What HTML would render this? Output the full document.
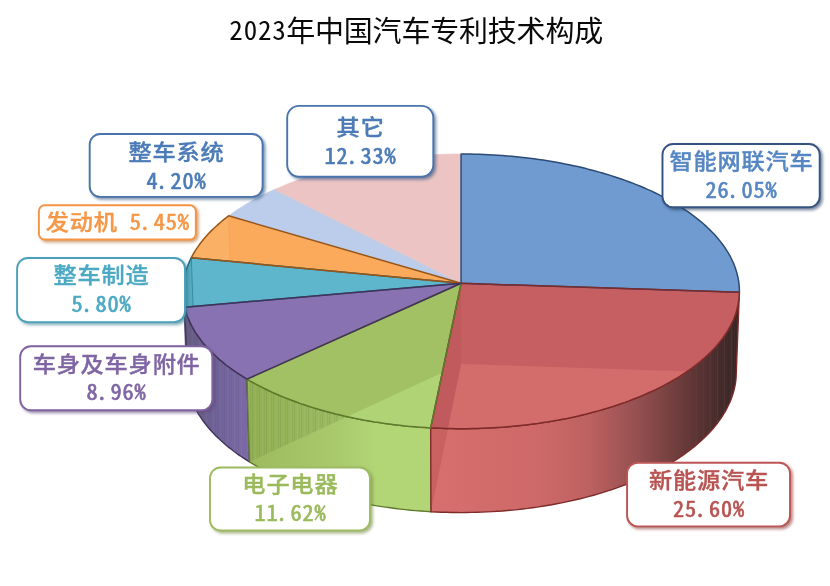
<!DOCTYPE html>
<html lang="zh-CN"><head><meta charset="utf-8"><title>2023年中国汽车专利技术构成</title>
<style>html,body{margin:0;padding:0;background:#fff}body{width:830px;height:586px;overflow:hidden}svg{display:block}</style>
</head><body>
<svg width="830" height="586" viewBox="0 0 830 586">
<defs>
<linearGradient id="gred" gradientUnits="userSpaceOnUse" x1="430" y1="0" x2="740" y2="0">
<stop offset="0" stop-color="#D76F6E"/><stop offset="0.355" stop-color="#CD6968"/><stop offset="0.51" stop-color="#BE6161"/><stop offset="0.665" stop-color="#965050"/><stop offset="0.82" stop-color="#693A3A"/><stop offset="0.935" stop-color="#472C2C"/><stop offset="1" stop-color="#3B2727"/>
</linearGradient>
<linearGradient id="ggreen" gradientUnits="userSpaceOnUse" x1="249" y1="0" x2="431" y2="0">
<stop offset="0" stop-color="#9DBB5E"/><stop offset="0.45" stop-color="#A8C86B"/><stop offset="0.7" stop-color="#B2D576"/><stop offset="1" stop-color="#B2D576"/>
</linearGradient>
<linearGradient id="gpurple" gradientUnits="userSpaceOnUse" x1="184" y1="0" x2="249" y2="0">
<stop offset="0" stop-color="#665C80"/><stop offset="0.5" stop-color="#706398"/><stop offset="1" stop-color="#7D6BA8"/>
</linearGradient>
<pattern id="hatch" patternUnits="userSpaceOnUse" width="7" height="10"><rect x="0" y="0" width="1" height="10" fill="#000" fill-opacity="0.10"/><rect x="3" y="0" width="1" height="10" fill="#fff" fill-opacity="0.07"/><rect x="5" y="0" width="1" height="10" fill="#000" fill-opacity="0.06"/></pattern>
<linearGradient id="hfade" gradientUnits="userSpaceOnUse" x1="675" y1="0" x2="730" y2="0"><stop offset="0" stop-color="#fff" stop-opacity="0"/><stop offset="1" stop-color="#fff" stop-opacity="0.7"/></linearGradient>
<mask id="hmask" maskUnits="userSpaceOnUse" x="0" y="0" width="830" height="586"><rect x="600" y="0" width="230" height="586" fill="url(#hfade)"/></mask>
<filter id="sh" x="-10%" y="-10%" width="125%" height="140%"><feGaussianBlur in="SourceAlpha" stdDeviation="1.6"/><feOffset dx="2.2" dy="2.2"/><feComponentTransfer><feFuncA type="linear" slope="0.5"/></feComponentTransfer><feMerge><feMergeNode/><feMergeNode in="SourceGraphic"/></feMerge></filter>
</defs>
<rect width="830" height="586" fill="#fff"/>
<path d="M184.7,307.3 L184.1,304.6 L183.7,302.0 L183.3,299.3 L183.0,296.6 L182.9,293.9 L186.0,374.8 L186.1,377.5 L186.4,380.3 L186.7,383.0 L187.2,385.7 L187.8,388.5Z" fill="#665C80" stroke="none" stroke-width="1.4" stroke-linejoin="round"/>
<path d="M247.0,379.1 L243.8,377.2 L240.7,375.2 L237.6,373.2 L234.6,371.2 L231.7,369.1 L228.9,367.0 L226.1,365.0 L223.5,362.8 L220.9,360.7 L218.4,358.5 L216.0,356.3 L213.6,354.1 L211.3,351.9 L209.2,349.7 L207.1,347.4 L205.1,345.2 L203.1,342.9 L201.3,340.6 L199.6,338.3 L197.9,335.9 L196.3,333.6 L194.8,331.3 L193.4,328.9 L192.1,326.5 L190.9,324.1 L189.7,321.8 L188.7,319.4 L187.7,317.0 L186.8,314.6 L186.0,312.1 L185.3,309.7 L184.7,307.3 L187.8,388.5 L188.4,390.9 L189.1,393.4 L189.9,395.9 L190.8,398.3 L191.7,400.8 L192.8,403.2 L193.9,405.7 L195.1,408.1 L196.4,410.5 L197.8,412.9 L199.3,415.4 L200.9,417.7 L202.5,420.1 L204.3,422.5 L206.1,424.8 L208.0,427.2 L210.0,429.5 L212.0,431.8 L214.2,434.1 L216.4,436.4 L218.8,438.6 L221.2,440.8 L223.6,443.0 L226.2,445.2 L228.8,447.4 L231.6,449.5 L234.4,451.7 L237.2,453.8 L240.2,455.8 L243.2,457.9 L246.3,459.9 L249.5,461.9Z" fill="url(#gpurple)" stroke="#43325C" stroke-width="1.4" stroke-linejoin="round"/>
<path d="M430.7,427.9 L425.5,427.6 L420.3,427.2 L415.1,426.8 L409.9,426.4 L404.7,425.9 L399.6,425.3 L394.5,424.7 L389.4,424.1 L384.4,423.4 L379.4,422.6 L374.4,421.9 L369.4,421.0 L364.5,420.2 L359.6,419.2 L354.7,418.3 L349.9,417.3 L345.1,416.2 L340.4,415.1 L335.7,414.0 L331.1,412.8 L326.5,411.6 L321.9,410.3 L317.5,409.0 L313.0,407.6 L308.6,406.2 L304.3,404.8 L300.0,403.4 L295.8,401.8 L291.7,400.3 L287.6,398.7 L283.6,397.1 L279.6,395.5 L275.7,393.8 L271.9,392.1 L268.1,390.3 L264.4,388.5 L260.8,386.7 L257.2,384.8 L253.8,383.0 L250.4,381.1 L247.0,379.1 L249.5,461.9 L252.8,463.9 L256.2,465.8 L259.6,467.7 L263.1,469.6 L266.7,471.5 L270.3,473.3 L274.1,475.1 L277.8,476.9 L281.7,478.6 L285.6,480.3 L289.6,481.9 L293.6,483.5 L297.7,485.1 L301.9,486.7 L306.1,488.2 L310.4,489.6 L314.7,491.0 L319.1,492.4 L323.6,493.7 L328.1,495.0 L332.6,496.3 L337.2,497.5 L341.8,498.7 L346.5,499.8 L351.2,500.9 L356.0,501.9 L360.8,502.9 L365.6,503.8 L370.5,504.7 L375.4,505.6 L380.3,506.4 L385.3,507.1 L390.3,507.8 L395.3,508.5 L400.3,509.1 L405.4,509.6 L410.5,510.2 L415.6,510.6 L420.7,511.0 L425.9,511.4 L431.0,511.7Z" fill="url(#ggreen)" stroke="#5F7A2C" stroke-width="1.4" stroke-linejoin="round"/>
<path d="M739.3,293.9 L739.2,296.4 L739.0,298.8 L738.7,301.2 L738.3,303.6 L737.8,306.0 L737.2,308.4 L736.6,310.9 L735.8,313.3 L735.0,315.7 L734.1,318.1 L733.1,320.5 L732.0,322.8 L730.8,325.2 L729.5,327.6 L728.2,329.9 L726.7,332.3 L725.2,334.6 L723.6,337.0 L721.9,339.3 L720.1,341.6 L718.2,343.9 L716.3,346.1 L714.2,348.4 L712.1,350.6 L709.9,352.9 L707.6,355.1 L705.2,357.3 L702.8,359.4 L700.3,361.6 L697.6,363.7 L694.9,365.8 L692.2,367.9 L689.3,369.9 L686.4,372.0 L683.4,374.0 L680.3,376.0 L677.1,377.9 L673.9,379.9 L670.6,381.8 L667.2,383.6 L663.8,385.5 L660.2,387.3 L656.7,389.1 L653.0,390.8 L649.3,392.5 L645.5,394.2 L641.6,395.9 L637.7,397.5 L633.7,399.1 L629.7,400.6 L625.6,402.1 L621.4,403.6 L617.2,405.1 L612.9,406.5 L608.6,407.8 L604.2,409.1 L599.8,410.4 L595.3,411.7 L590.8,412.9 L586.2,414.0 L581.6,415.2 L576.9,416.2 L572.2,417.3 L567.5,418.3 L562.7,419.2 L557.9,420.1 L553.0,421.0 L548.1,421.8 L543.2,422.6 L538.3,423.3 L533.3,424.0 L528.3,424.6 L523.2,425.2 L518.2,425.8 L513.1,426.3 L508.0,426.7 L502.9,427.1 L497.8,427.5 L492.7,427.8 L487.5,428.1 L482.4,428.3 L477.2,428.5 L472.0,428.6 L466.8,428.7 L461.7,428.7 L456.5,428.7 L451.3,428.6 L446.1,428.5 L441.0,428.3 L435.8,428.1 L430.7,427.9 L431.0,511.7 L436.1,512.0 L441.2,512.2 L446.3,512.3 L451.4,512.5 L456.5,512.5 L461.7,512.6 L466.8,512.5 L471.9,512.4 L477.0,512.3 L482.1,512.1 L487.2,511.9 L492.3,511.6 L497.4,511.3 L502.4,511.0 L507.5,510.5 L512.5,510.1 L517.5,509.6 L522.5,509.0 L527.5,508.4 L532.4,507.7 L537.3,507.1 L542.2,506.3 L547.1,505.5 L551.9,504.7 L556.7,503.8 L561.5,502.9 L566.2,501.9 L570.9,500.9 L575.6,499.8 L580.2,498.7 L584.7,497.6 L589.3,496.4 L593.7,495.2 L598.2,493.9 L602.5,492.6 L606.9,491.2 L611.2,489.8 L615.4,488.4 L619.5,486.9 L623.7,485.4 L627.7,483.9 L631.7,482.3 L635.7,480.7 L639.5,479.0 L643.3,477.3 L647.1,475.6 L650.8,473.8 L654.4,472.1 L657.9,470.2 L661.4,468.4 L664.8,466.5 L668.2,464.6 L671.5,462.6 L674.7,460.7 L677.8,458.7 L680.8,456.6 L683.8,454.6 L686.7,452.5 L689.5,450.4 L692.3,448.3 L694.9,446.1 L697.5,443.9 L700.0,441.8 L702.5,439.5 L704.8,437.3 L707.1,435.0 L709.3,432.8 L711.4,430.5 L713.4,428.2 L715.3,425.8 L717.2,423.5 L718.9,421.2 L720.6,418.8 L722.2,416.4 L723.7,414.0 L725.2,411.6 L726.5,409.2 L727.7,406.8 L728.9,404.3 L730.0,401.9 L731.0,399.5 L731.9,397.0 L732.7,394.5 L733.5,392.1 L734.1,389.6 L734.7,387.2 L735.2,384.7 L735.6,382.2 L735.9,379.7 L736.1,377.3 L736.2,374.8Z" fill="url(#gred)" stroke="#7E2B2A" stroke-width="1.4" stroke-linejoin="round"/>
<clipPath id="cside_green"><path d="M430.7,427.9 L425.5,427.6 L420.3,427.2 L415.1,426.8 L409.9,426.4 L404.7,425.9 L399.6,425.3 L394.5,424.7 L389.4,424.1 L384.4,423.4 L379.4,422.6 L374.4,421.9 L369.4,421.0 L364.5,420.2 L359.6,419.2 L354.7,418.3 L349.9,417.3 L345.1,416.2 L340.4,415.1 L335.7,414.0 L331.1,412.8 L326.5,411.6 L321.9,410.3 L317.5,409.0 L313.0,407.6 L308.6,406.2 L304.3,404.8 L300.0,403.4 L295.8,401.8 L291.7,400.3 L287.6,398.7 L283.6,397.1 L279.6,395.5 L275.7,393.8 L271.9,392.1 L268.1,390.3 L264.4,388.5 L260.8,386.7 L257.2,384.8 L253.8,383.0 L250.4,381.1 L247.0,379.1 L249.5,461.9 L252.8,463.9 L256.2,465.8 L259.6,467.7 L263.1,469.6 L266.7,471.5 L270.3,473.3 L274.1,475.1 L277.8,476.9 L281.7,478.6 L285.6,480.3 L289.6,481.9 L293.6,483.5 L297.7,485.1 L301.9,486.7 L306.1,488.2 L310.4,489.6 L314.7,491.0 L319.1,492.4 L323.6,493.7 L328.1,495.0 L332.6,496.3 L337.2,497.5 L341.8,498.7 L346.5,499.8 L351.2,500.9 L356.0,501.9 L360.8,502.9 L365.6,503.8 L370.5,504.7 L375.4,505.6 L380.3,506.4 L385.3,507.1 L390.3,507.8 L395.3,508.5 L400.3,509.1 L405.4,509.6 L410.5,510.2 L415.6,510.6 L420.7,511.0 L425.9,511.4 L431.0,511.7Z"/></clipPath>
<path d="M461.1,283.3 L247.0,379.1 L249.5,461.9 L461.1,363.9Z" fill="#6F8A35" fill-opacity="0.22" clip-path="url(#cside_green)"/>
<clipPath id="cside_red"><path d="M739.3,293.9 L739.2,296.4 L739.0,298.8 L738.7,301.2 L738.3,303.6 L737.8,306.0 L737.2,308.4 L736.6,310.9 L735.8,313.3 L735.0,315.7 L734.1,318.1 L733.1,320.5 L732.0,322.8 L730.8,325.2 L729.5,327.6 L728.2,329.9 L726.7,332.3 L725.2,334.6 L723.6,337.0 L721.9,339.3 L720.1,341.6 L718.2,343.9 L716.3,346.1 L714.2,348.4 L712.1,350.6 L709.9,352.9 L707.6,355.1 L705.2,357.3 L702.8,359.4 L700.3,361.6 L697.6,363.7 L694.9,365.8 L692.2,367.9 L689.3,369.9 L686.4,372.0 L683.4,374.0 L680.3,376.0 L677.1,377.9 L673.9,379.9 L670.6,381.8 L667.2,383.6 L663.8,385.5 L660.2,387.3 L656.7,389.1 L653.0,390.8 L649.3,392.5 L645.5,394.2 L641.6,395.9 L637.7,397.5 L633.7,399.1 L629.7,400.6 L625.6,402.1 L621.4,403.6 L617.2,405.1 L612.9,406.5 L608.6,407.8 L604.2,409.1 L599.8,410.4 L595.3,411.7 L590.8,412.9 L586.2,414.0 L581.6,415.2 L576.9,416.2 L572.2,417.3 L567.5,418.3 L562.7,419.2 L557.9,420.1 L553.0,421.0 L548.1,421.8 L543.2,422.6 L538.3,423.3 L533.3,424.0 L528.3,424.6 L523.2,425.2 L518.2,425.8 L513.1,426.3 L508.0,426.7 L502.9,427.1 L497.8,427.5 L492.7,427.8 L487.5,428.1 L482.4,428.3 L477.2,428.5 L472.0,428.6 L466.8,428.7 L461.7,428.7 L456.5,428.7 L451.3,428.6 L446.1,428.5 L441.0,428.3 L435.8,428.1 L430.7,427.9 L431.0,511.7 L436.1,512.0 L441.2,512.2 L446.3,512.3 L451.4,512.5 L456.5,512.5 L461.7,512.6 L466.8,512.5 L471.9,512.4 L477.0,512.3 L482.1,512.1 L487.2,511.9 L492.3,511.6 L497.4,511.3 L502.4,511.0 L507.5,510.5 L512.5,510.1 L517.5,509.6 L522.5,509.0 L527.5,508.4 L532.4,507.7 L537.3,507.1 L542.2,506.3 L547.1,505.5 L551.9,504.7 L556.7,503.8 L561.5,502.9 L566.2,501.9 L570.9,500.9 L575.6,499.8 L580.2,498.7 L584.7,497.6 L589.3,496.4 L593.7,495.2 L598.2,493.9 L602.5,492.6 L606.9,491.2 L611.2,489.8 L615.4,488.4 L619.5,486.9 L623.7,485.4 L627.7,483.9 L631.7,482.3 L635.7,480.7 L639.5,479.0 L643.3,477.3 L647.1,475.6 L650.8,473.8 L654.4,472.1 L657.9,470.2 L661.4,468.4 L664.8,466.5 L668.2,464.6 L671.5,462.6 L674.7,460.7 L677.8,458.7 L680.8,456.6 L683.8,454.6 L686.7,452.5 L689.5,450.4 L692.3,448.3 L694.9,446.1 L697.5,443.9 L700.0,441.8 L702.5,439.5 L704.8,437.3 L707.1,435.0 L709.3,432.8 L711.4,430.5 L713.4,428.2 L715.3,425.8 L717.2,423.5 L718.9,421.2 L720.6,418.8 L722.2,416.4 L723.7,414.0 L725.2,411.6 L726.5,409.2 L727.7,406.8 L728.9,404.3 L730.0,401.9 L731.0,399.5 L731.9,397.0 L732.7,394.5 L733.5,392.1 L734.1,389.6 L734.7,387.2 L735.2,384.7 L735.6,382.2 L735.9,379.7 L736.1,377.3 L736.2,374.8Z"/></clipPath>
<path d="M461.1,283.3 L430.7,427.9 L431.0,511.7 L461.1,363.9Z" fill="#9E3B3B" fill-opacity="0.25" clip-path="url(#cside_red)"/>
<g clip-path="url(#cside_green)" opacity="0.55"><path d="M461.1,283.3 L247.0,379.1 L249.5,461.9 L461.1,363.9Z" fill="url(#hatch)"/></g>
<g clip-path="url(#cside_red)" mask="url(#hmask)"><rect x="600" y="280" width="150" height="240" fill="url(#hatch)"/></g>
<clipPath id="cside_purple"><path d="M247.0,379.1 L243.8,377.2 L240.7,375.2 L237.6,373.2 L234.6,371.2 L231.7,369.1 L228.9,367.0 L226.1,365.0 L223.5,362.8 L220.9,360.7 L218.4,358.5 L216.0,356.3 L213.6,354.1 L211.3,351.9 L209.2,349.7 L207.1,347.4 L205.1,345.2 L203.1,342.9 L201.3,340.6 L199.6,338.3 L197.9,335.9 L196.3,333.6 L194.8,331.3 L193.4,328.9 L192.1,326.5 L190.9,324.1 L189.7,321.8 L188.7,319.4 L187.7,317.0 L186.8,314.6 L186.0,312.1 L185.3,309.7 L184.7,307.3 L187.8,388.5 L188.4,390.9 L189.1,393.4 L189.9,395.9 L190.8,398.3 L191.7,400.8 L192.8,403.2 L193.9,405.7 L195.1,408.1 L196.4,410.5 L197.8,412.9 L199.3,415.4 L200.9,417.7 L202.5,420.1 L204.3,422.5 L206.1,424.8 L208.0,427.2 L210.0,429.5 L212.0,431.8 L214.2,434.1 L216.4,436.4 L218.8,438.6 L221.2,440.8 L223.6,443.0 L226.2,445.2 L228.8,447.4 L231.6,449.5 L234.4,451.7 L237.2,453.8 L240.2,455.8 L243.2,457.9 L246.3,459.9 L249.5,461.9Z"/></clipPath>
<g clip-path="url(#cside_purple)" opacity="0.4"><rect x="180" y="290" width="80" height="190" fill="url(#hatch)"/></g>
<path id="top_blue" d="M461.1,283.3 L461.1,154.0 L465.7,154.0 L470.3,154.1 L474.9,154.2 L479.6,154.3 L484.2,154.5 L488.8,154.7 L493.4,154.9 L497.9,155.2 L502.5,155.5 L507.1,155.9 L511.6,156.3 L516.2,156.7 L520.7,157.2 L525.2,157.7 L529.7,158.2 L534.2,158.8 L538.6,159.4 L543.1,160.1 L547.5,160.8 L551.9,161.5 L556.2,162.3 L560.6,163.1 L564.9,163.9 L569.2,164.8 L573.5,165.7 L577.7,166.6 L581.9,167.6 L586.1,168.6 L590.2,169.7 L594.3,170.8 L598.4,171.9 L602.4,173.0 L606.4,174.2 L610.3,175.4 L614.3,176.7 L618.1,178.0 L622.0,179.3 L625.8,180.6 L629.5,182.0 L633.2,183.4 L636.9,184.9 L640.5,186.3 L644.0,187.8 L647.5,189.4 L651.0,190.9 L654.4,192.5 L657.8,194.2 L661.1,195.8 L664.3,197.5 L667.5,199.2 L670.6,201.0 L673.7,202.7 L676.7,204.5 L679.7,206.3 L682.6,208.2 L685.4,210.1 L688.2,211.9 L690.9,213.9 L693.5,215.8 L696.1,217.8 L698.6,219.8 L701.1,221.8 L703.4,223.8 L705.7,225.9 L708.0,228.0 L710.1,230.1 L712.2,232.2 L714.3,234.3 L716.2,236.5 L718.1,238.7 L719.9,240.9 L721.6,243.1 L723.3,245.3 L724.8,247.5 L726.3,249.8 L727.8,252.1 L729.1,254.4 L730.4,256.7 L731.5,259.0 L732.6,261.3 L733.7,263.6 L734.6,266.0 L735.4,268.3 L736.2,270.7 L736.9,273.1 L737.5,275.5 L738.0,277.9 L738.5,280.3 L738.8,282.7 L739.1,285.1 L739.3,287.5 L739.4,289.9 L739.4,292.3Z" fill="#6F9BD0"/>
<clipPath id="ctop_blue"><path d="M461.1,283.3 L461.1,154.0 L465.7,154.0 L470.3,154.1 L474.9,154.2 L479.6,154.3 L484.2,154.5 L488.8,154.7 L493.4,154.9 L497.9,155.2 L502.5,155.5 L507.1,155.9 L511.6,156.3 L516.2,156.7 L520.7,157.2 L525.2,157.7 L529.7,158.2 L534.2,158.8 L538.6,159.4 L543.1,160.1 L547.5,160.8 L551.9,161.5 L556.2,162.3 L560.6,163.1 L564.9,163.9 L569.2,164.8 L573.5,165.7 L577.7,166.6 L581.9,167.6 L586.1,168.6 L590.2,169.7 L594.3,170.8 L598.4,171.9 L602.4,173.0 L606.4,174.2 L610.3,175.4 L614.3,176.7 L618.1,178.0 L622.0,179.3 L625.8,180.6 L629.5,182.0 L633.2,183.4 L636.9,184.9 L640.5,186.3 L644.0,187.8 L647.5,189.4 L651.0,190.9 L654.4,192.5 L657.8,194.2 L661.1,195.8 L664.3,197.5 L667.5,199.2 L670.6,201.0 L673.7,202.7 L676.7,204.5 L679.7,206.3 L682.6,208.2 L685.4,210.1 L688.2,211.9 L690.9,213.9 L693.5,215.8 L696.1,217.8 L698.6,219.8 L701.1,221.8 L703.4,223.8 L705.7,225.9 L708.0,228.0 L710.1,230.1 L712.2,232.2 L714.3,234.3 L716.2,236.5 L718.1,238.7 L719.9,240.9 L721.6,243.1 L723.3,245.3 L724.8,247.5 L726.3,249.8 L727.8,252.1 L729.1,254.4 L730.4,256.7 L731.5,259.0 L732.6,261.3 L733.7,263.6 L734.6,266.0 L735.4,268.3 L736.2,270.7 L736.9,273.1 L737.5,275.5 L738.0,277.9 L738.5,280.3 L738.8,282.7 L739.1,285.1 L739.3,287.5 L739.4,289.9 L739.4,292.3Z"/></clipPath>
<path id="top_red" d="M461.1,283.3 L739.4,292.3 L739.3,294.7 L739.1,297.2 L738.9,299.6 L738.5,302.0 L738.1,304.4 L737.6,306.8 L737.0,309.2 L736.3,311.6 L735.6,314.0 L734.7,316.4 L733.8,318.8 L732.7,321.2 L731.6,323.5 L730.4,325.9 L729.1,328.2 L727.8,330.6 L726.3,332.9 L724.8,335.3 L723.1,337.6 L721.4,339.9 L719.6,342.2 L717.7,344.4 L715.8,346.7 L713.7,349.0 L711.6,351.2 L709.4,353.4 L707.1,355.6 L704.7,357.8 L702.2,359.9 L699.7,362.1 L697.1,364.2 L694.3,366.3 L691.6,368.3 L688.7,370.4 L685.8,372.4 L682.8,374.4 L679.7,376.4 L676.5,378.3 L673.3,380.2 L670.0,382.1 L666.6,384.0 L663.1,385.8 L659.6,387.6 L656.0,389.4 L652.4,391.1 L648.6,392.8 L644.9,394.5 L641.0,396.1 L637.1,397.7 L633.1,399.3 L629.1,400.9 L625.0,402.4 L620.8,403.8 L616.6,405.3 L612.3,406.6 L608.0,408.0 L603.7,409.3 L599.2,410.6 L594.8,411.8 L590.2,413.0 L585.7,414.2 L581.1,415.3 L576.4,416.4 L571.7,417.4 L567.0,418.4 L562.2,419.3 L557.4,420.2 L552.6,421.1 L547.7,421.9 L542.8,422.6 L537.9,423.4 L532.9,424.0 L527.9,424.7 L522.9,425.3 L517.9,425.8 L512.8,426.3 L507.8,426.8 L502.7,427.2 L497.6,427.5 L492.4,427.8 L487.3,428.1 L482.2,428.3 L477.0,428.5 L471.9,428.6 L466.7,428.7 L461.6,428.7 L456.4,428.7 L451.2,428.6 L446.1,428.5 L440.9,428.3 L435.8,428.1 L430.7,427.9Z" fill="#D36D6C"/>
<clipPath id="ctop_red"><path d="M461.1,283.3 L739.4,292.3 L739.3,294.7 L739.1,297.2 L738.9,299.6 L738.5,302.0 L738.1,304.4 L737.6,306.8 L737.0,309.2 L736.3,311.6 L735.6,314.0 L734.7,316.4 L733.8,318.8 L732.7,321.2 L731.6,323.5 L730.4,325.9 L729.1,328.2 L727.8,330.6 L726.3,332.9 L724.8,335.3 L723.1,337.6 L721.4,339.9 L719.6,342.2 L717.7,344.4 L715.8,346.7 L713.7,349.0 L711.6,351.2 L709.4,353.4 L707.1,355.6 L704.7,357.8 L702.2,359.9 L699.7,362.1 L697.1,364.2 L694.3,366.3 L691.6,368.3 L688.7,370.4 L685.8,372.4 L682.8,374.4 L679.7,376.4 L676.5,378.3 L673.3,380.2 L670.0,382.1 L666.6,384.0 L663.1,385.8 L659.6,387.6 L656.0,389.4 L652.4,391.1 L648.6,392.8 L644.9,394.5 L641.0,396.1 L637.1,397.7 L633.1,399.3 L629.1,400.9 L625.0,402.4 L620.8,403.8 L616.6,405.3 L612.3,406.6 L608.0,408.0 L603.7,409.3 L599.2,410.6 L594.8,411.8 L590.2,413.0 L585.7,414.2 L581.1,415.3 L576.4,416.4 L571.7,417.4 L567.0,418.4 L562.2,419.3 L557.4,420.2 L552.6,421.1 L547.7,421.9 L542.8,422.6 L537.9,423.4 L532.9,424.0 L527.9,424.7 L522.9,425.3 L517.9,425.8 L512.8,426.3 L507.8,426.8 L502.7,427.2 L497.6,427.5 L492.4,427.8 L487.3,428.1 L482.2,428.3 L477.0,428.5 L471.9,428.6 L466.7,428.7 L461.6,428.7 L456.4,428.7 L451.2,428.6 L446.1,428.5 L440.9,428.3 L435.8,428.1 L430.7,427.9Z"/></clipPath>
<path id="top_green" d="M461.1,283.3 L430.7,427.9 L425.5,427.6 L420.3,427.2 L415.1,426.8 L409.9,426.4 L404.7,425.9 L399.6,425.3 L394.5,424.7 L389.4,424.1 L384.4,423.4 L379.4,422.6 L374.4,421.9 L369.4,421.0 L364.5,420.2 L359.6,419.2 L354.7,418.3 L349.9,417.3 L345.1,416.2 L340.4,415.1 L335.7,414.0 L331.1,412.8 L326.5,411.6 L321.9,410.3 L317.5,409.0 L313.0,407.6 L308.6,406.2 L304.3,404.8 L300.0,403.4 L295.8,401.8 L291.7,400.3 L287.6,398.7 L283.6,397.1 L279.6,395.5 L275.7,393.8 L271.9,392.1 L268.1,390.3 L264.4,388.5 L260.8,386.7 L257.2,384.8 L253.8,383.0 L250.4,381.1 L247.0,379.1Z" fill="#B0D375"/>
<clipPath id="ctop_green"><path d="M461.1,283.3 L430.7,427.9 L425.5,427.6 L420.3,427.2 L415.1,426.8 L409.9,426.4 L404.7,425.9 L399.6,425.3 L394.5,424.7 L389.4,424.1 L384.4,423.4 L379.4,422.6 L374.4,421.9 L369.4,421.0 L364.5,420.2 L359.6,419.2 L354.7,418.3 L349.9,417.3 L345.1,416.2 L340.4,415.1 L335.7,414.0 L331.1,412.8 L326.5,411.6 L321.9,410.3 L317.5,409.0 L313.0,407.6 L308.6,406.2 L304.3,404.8 L300.0,403.4 L295.8,401.8 L291.7,400.3 L287.6,398.7 L283.6,397.1 L279.6,395.5 L275.7,393.8 L271.9,392.1 L268.1,390.3 L264.4,388.5 L260.8,386.7 L257.2,384.8 L253.8,383.0 L250.4,381.1 L247.0,379.1Z"/></clipPath>
<path id="top_purple" d="M461.1,283.3 L247.0,379.1 L243.8,377.2 L240.7,375.2 L237.6,373.2 L234.6,371.2 L231.7,369.1 L228.9,367.0 L226.1,365.0 L223.5,362.8 L220.9,360.7 L218.4,358.5 L216.0,356.3 L213.6,354.1 L211.3,351.9 L209.2,349.7 L207.1,347.4 L205.1,345.2 L203.1,342.9 L201.3,340.6 L199.6,338.3 L197.9,335.9 L196.3,333.6 L194.8,331.3 L193.4,328.9 L192.1,326.5 L190.9,324.1 L189.7,321.8 L188.7,319.4 L187.7,317.0 L186.8,314.6 L186.0,312.1 L185.3,309.7 L184.7,307.3Z" fill="#8972B2"/>
<clipPath id="ctop_purple"><path d="M461.1,283.3 L247.0,379.1 L243.8,377.2 L240.7,375.2 L237.6,373.2 L234.6,371.2 L231.7,369.1 L228.9,367.0 L226.1,365.0 L223.5,362.8 L220.9,360.7 L218.4,358.5 L216.0,356.3 L213.6,354.1 L211.3,351.9 L209.2,349.7 L207.1,347.4 L205.1,345.2 L203.1,342.9 L201.3,340.6 L199.6,338.3 L197.9,335.9 L196.3,333.6 L194.8,331.3 L193.4,328.9 L192.1,326.5 L190.9,324.1 L189.7,321.8 L188.7,319.4 L187.7,317.0 L186.8,314.6 L186.0,312.1 L185.3,309.7 L184.7,307.3Z"/></clipPath>
<path id="top_teal" d="M461.1,283.3 L184.7,307.3 L184.2,304.8 L183.7,302.3 L183.3,299.8 L183.1,297.3 L182.9,294.8 L182.8,292.2 L182.8,289.7 L182.9,287.2 L183.1,284.7 L183.4,282.2 L183.8,279.8 L184.3,277.3 L184.8,274.8 L185.5,272.3 L186.2,269.9 L187.1,267.4 L188.0,265.0 L189.0,262.6 L190.1,260.1 L191.3,257.7Z" fill="#5DB6CB"/>
<clipPath id="ctop_teal"><path d="M461.1,283.3 L184.7,307.3 L184.2,304.8 L183.7,302.3 L183.3,299.8 L183.1,297.3 L182.9,294.8 L182.8,292.2 L182.8,289.7 L182.9,287.2 L183.1,284.7 L183.4,282.2 L183.8,279.8 L184.3,277.3 L184.8,274.8 L185.5,272.3 L186.2,269.9 L187.1,267.4 L188.0,265.0 L189.0,262.6 L190.1,260.1 L191.3,257.7Z"/></clipPath>
<path id="top_orange" d="M461.1,283.3 L191.3,257.7 L192.5,255.4 L193.9,253.0 L195.3,250.7 L196.8,248.4 L198.4,246.1 L200.0,243.8 L201.8,241.5 L203.6,239.3 L205.5,237.0 L207.5,234.8 L209.5,232.6 L211.7,230.4 L213.9,228.3 L216.2,226.2 L218.5,224.1 L220.9,222.0 L223.4,219.9 L226.0,217.9 L228.6,215.8Z" fill="#FAAA5A"/>
<clipPath id="ctop_orange"><path d="M461.1,283.3 L191.3,257.7 L192.5,255.4 L193.9,253.0 L195.3,250.7 L196.8,248.4 L198.4,246.1 L200.0,243.8 L201.8,241.5 L203.6,239.3 L205.5,237.0 L207.5,234.8 L209.5,232.6 L211.7,230.4 L213.9,228.3 L216.2,226.2 L218.5,224.1 L220.9,222.0 L223.4,219.9 L226.0,217.9 L228.6,215.8Z"/></clipPath>
<path id="top_lblue" d="M461.1,283.3 L228.6,215.8 L231.3,213.9 L234.0,212.0 L236.8,210.1 L239.6,208.2 L242.5,206.4 L245.4,204.5 L248.5,202.8 L251.5,201.0 L254.7,199.2 L257.9,197.5 L261.1,195.9 L264.4,194.2 L267.7,192.6 L271.1,191.0 L274.6,189.4Z" fill="#BBCDEA" stroke="#BBCDEA" stroke-width="0.6"/>
<clipPath id="ctop_lblue"><path d="M461.1,283.3 L228.6,215.8 L231.3,213.9 L234.0,212.0 L236.8,210.1 L239.6,208.2 L242.5,206.4 L245.4,204.5 L248.5,202.8 L251.5,201.0 L254.7,199.2 L257.9,197.5 L261.1,195.9 L264.4,194.2 L267.7,192.6 L271.1,191.0 L274.6,189.4Z"/></clipPath>
<path id="top_pink" d="M461.1,283.3 L274.6,189.4 L278.1,187.9 L281.7,186.4 L285.3,184.9 L288.9,183.4 L292.6,182.0 L296.4,180.6 L300.2,179.3 L304.0,178.0 L307.9,176.7 L311.8,175.4 L315.8,174.2 L319.7,173.0 L323.8,171.9 L327.8,170.8 L332.0,169.7 L336.1,168.6 L340.3,167.6 L344.5,166.6 L348.7,165.7 L353.0,164.8 L357.3,163.9 L361.6,163.1 L365.9,162.3 L370.3,161.5 L374.7,160.8 L379.1,160.1 L383.5,159.4 L388.0,158.8 L392.5,158.2 L397.0,157.7 L401.5,157.2 L406.0,156.7 L410.5,156.3 L415.1,155.9 L419.7,155.5 L424.2,155.2 L428.8,154.9 L433.4,154.7 L438.0,154.5 L442.6,154.3 L447.2,154.2 L451.9,154.1 L456.5,154.0 L461.1,154.0Z" fill="#EBC4C3" stroke="#EBC4C3" stroke-width="0.6"/>
<clipPath id="ctop_pink"><path d="M461.1,283.3 L274.6,189.4 L278.1,187.9 L281.7,186.4 L285.3,184.9 L288.9,183.4 L292.6,182.0 L296.4,180.6 L300.2,179.3 L304.0,178.0 L307.9,176.7 L311.8,175.4 L315.8,174.2 L319.7,173.0 L323.8,171.9 L327.8,170.8 L332.0,169.7 L336.1,168.6 L340.3,167.6 L344.5,166.6 L348.7,165.7 L353.0,164.8 L357.3,163.9 L361.6,163.1 L365.9,162.3 L370.3,161.5 L374.7,160.8 L379.1,160.1 L383.5,159.4 L388.0,158.8 L392.5,158.2 L397.0,157.7 L401.5,157.2 L406.0,156.7 L410.5,156.3 L415.1,155.9 L419.7,155.5 L424.2,155.2 L428.8,154.9 L433.4,154.7 L438.0,154.5 L442.6,154.3 L447.2,154.2 L451.9,154.1 L456.5,154.0 L461.1,154.0Z"/></clipPath>
<g clip-path="url(#ctop_red)"><path d="M461.1,283.3 L739.4,292.3 L736.3,373.1 L461.1,363.9Z" fill="#B04A50" fill-opacity="0.38"/><path d="M461.1,283.3 L430.7,427.9 L431.0,511.7 L461.1,363.9Z" fill="#A83F45" fill-opacity="0.40"/></g>
<g clip-path="url(#ctop_green)"><path d="M461.1,283.3 L247.0,379.1 L249.5,461.9 L461.1,363.9Z" fill="#8FA54A" fill-opacity="0.40"/></g>
<g clip-path="url(#ctop_teal)"><path d="M182.9,293.9 L182.8,291.5 L182.9,289.0 L183.0,286.6 L183.2,284.1 L183.5,281.7 L183.9,279.3 L184.4,276.8 L184.9,274.4 L185.6,272.0 L186.3,269.6 L187.2,267.2 L188.1,264.8 L189.0,262.5 L190.1,260.1 L191.3,257.7 L194.2,337.8 L193.1,340.2 L192.0,342.6 L191.1,345.0 L190.2,347.4 L189.4,349.9 L188.6,352.4 L188.0,354.8 L187.4,357.3 L187.0,359.8 L186.6,362.3 L186.3,364.8 L186.1,367.3 L185.9,369.8 L185.9,372.3 L186.0,374.8Z" fill="#2B7F95" fill-opacity="0.16"/><path d="M191.3,257.7 L194.2,337.8" stroke="#1F6F86" stroke-opacity="0.55" stroke-width="1" fill="none"/></g>
<g clip-path="url(#ctop_orange)"><path d="M191.3,257.7 L192.5,255.4 L193.9,253.0 L195.3,250.7 L196.8,248.4 L198.4,246.1 L200.0,243.8 L201.8,241.5 L203.6,239.3 L205.5,237.0 L207.5,234.8 L209.5,232.6 L211.7,230.4 L213.9,228.3 L216.2,226.2 L218.5,224.1 L220.9,222.0 L223.4,219.9 L226.0,217.9 L228.6,215.8 L231.1,294.9 L228.5,296.9 L226.0,299.0 L223.5,301.1 L221.1,303.3 L218.8,305.4 L216.6,307.6 L214.4,309.8 L212.3,312.0 L210.2,314.3 L208.3,316.6 L206.4,318.8 L204.6,321.1 L202.9,323.5 L201.2,325.8 L199.7,328.2 L198.2,330.5 L196.8,332.9 L195.5,335.3 L194.2,337.8Z" fill="#fff" fill-opacity="0.07"/><path d="M228.6,215.8 L231.1,294.9" stroke="#C97A2C" stroke-opacity="0.10" stroke-width="1" fill="none"/></g>
<path d="M461.1,283.3 L184.7,307.3 L184.2,304.8 L183.7,302.3 L183.3,299.8 L183.1,297.3 L182.9,294.8 L182.8,292.2 L182.8,289.7 L182.9,287.2 L183.1,284.7 L183.4,282.2 L183.8,279.8 L184.3,277.3 L184.8,274.8 L185.5,272.3 L186.2,269.9 L187.1,267.4 L188.0,265.0 L189.0,262.6 L190.1,260.1 L191.3,257.7Z" fill="none" stroke="#24687A" stroke-width="1.5" stroke-linejoin="round"/>
<path d="M461.1,283.3 L461.1,154.0 L465.7,154.0 L470.3,154.1 L474.9,154.2 L479.6,154.3 L484.2,154.5 L488.8,154.7 L493.4,154.9 L497.9,155.2 L502.5,155.5 L507.1,155.9 L511.6,156.3 L516.2,156.7 L520.7,157.2 L525.2,157.7 L529.7,158.2 L534.2,158.8 L538.6,159.4 L543.1,160.1 L547.5,160.8 L551.9,161.5 L556.2,162.3 L560.6,163.1 L564.9,163.9 L569.2,164.8 L573.5,165.7 L577.7,166.6 L581.9,167.6 L586.1,168.6 L590.2,169.7 L594.3,170.8 L598.4,171.9 L602.4,173.0 L606.4,174.2 L610.3,175.4 L614.3,176.7 L618.1,178.0 L622.0,179.3 L625.8,180.6 L629.5,182.0 L633.2,183.4 L636.9,184.9 L640.5,186.3 L644.0,187.8 L647.5,189.4 L651.0,190.9 L654.4,192.5 L657.8,194.2 L661.1,195.8 L664.3,197.5 L667.5,199.2 L670.6,201.0 L673.7,202.7 L676.7,204.5 L679.7,206.3 L682.6,208.2 L685.4,210.1 L688.2,211.9 L690.9,213.9 L693.5,215.8 L696.1,217.8 L698.6,219.8 L701.1,221.8 L703.4,223.8 L705.7,225.9 L708.0,228.0 L710.1,230.1 L712.2,232.2 L714.3,234.3 L716.2,236.5 L718.1,238.7 L719.9,240.9 L721.6,243.1 L723.3,245.3 L724.8,247.5 L726.3,249.8 L727.8,252.1 L729.1,254.4 L730.4,256.7 L731.5,259.0 L732.6,261.3 L733.7,263.6 L734.6,266.0 L735.4,268.3 L736.2,270.7 L736.9,273.1 L737.5,275.5 L738.0,277.9 L738.5,280.3 L738.8,282.7 L739.1,285.1 L739.3,287.5 L739.4,289.9 L739.4,292.3Z" fill="none" stroke="#2C4A75" stroke-width="1.5" stroke-linejoin="round"/>
<path d="M461.1,283.3 L739.4,292.3 L739.3,294.7 L739.1,297.2 L738.9,299.6 L738.5,302.0 L738.1,304.4 L737.6,306.8 L737.0,309.2 L736.3,311.6 L735.6,314.0 L734.7,316.4 L733.8,318.8 L732.7,321.2 L731.6,323.5 L730.4,325.9 L729.1,328.2 L727.8,330.6 L726.3,332.9 L724.8,335.3 L723.1,337.6 L721.4,339.9 L719.6,342.2 L717.7,344.4 L715.8,346.7 L713.7,349.0 L711.6,351.2 L709.4,353.4 L707.1,355.6 L704.7,357.8 L702.2,359.9 L699.7,362.1 L697.1,364.2 L694.3,366.3 L691.6,368.3 L688.7,370.4 L685.8,372.4 L682.8,374.4 L679.7,376.4 L676.5,378.3 L673.3,380.2 L670.0,382.1 L666.6,384.0 L663.1,385.8 L659.6,387.6 L656.0,389.4 L652.4,391.1 L648.6,392.8 L644.9,394.5 L641.0,396.1 L637.1,397.7 L633.1,399.3 L629.1,400.9 L625.0,402.4 L620.8,403.8 L616.6,405.3 L612.3,406.6 L608.0,408.0 L603.7,409.3 L599.2,410.6 L594.8,411.8 L590.2,413.0 L585.7,414.2 L581.1,415.3 L576.4,416.4 L571.7,417.4 L567.0,418.4 L562.2,419.3 L557.4,420.2 L552.6,421.1 L547.7,421.9 L542.8,422.6 L537.9,423.4 L532.9,424.0 L527.9,424.7 L522.9,425.3 L517.9,425.8 L512.8,426.3 L507.8,426.8 L502.7,427.2 L497.6,427.5 L492.4,427.8 L487.3,428.1 L482.2,428.3 L477.0,428.5 L471.9,428.6 L466.7,428.7 L461.6,428.7 L456.4,428.7 L451.2,428.6 L446.1,428.5 L440.9,428.3 L435.8,428.1 L430.7,427.9Z" fill="none" stroke="#7E2B2A" stroke-width="1.5" stroke-linejoin="round"/>
<path d="M461.1,283.3 L430.7,427.9 L425.5,427.6 L420.3,427.2 L415.1,426.8 L409.9,426.4 L404.7,425.9 L399.6,425.3 L394.5,424.7 L389.4,424.1 L384.4,423.4 L379.4,422.6 L374.4,421.9 L369.4,421.0 L364.5,420.2 L359.6,419.2 L354.7,418.3 L349.9,417.3 L345.1,416.2 L340.4,415.1 L335.7,414.0 L331.1,412.8 L326.5,411.6 L321.9,410.3 L317.5,409.0 L313.0,407.6 L308.6,406.2 L304.3,404.8 L300.0,403.4 L295.8,401.8 L291.7,400.3 L287.6,398.7 L283.6,397.1 L279.6,395.5 L275.7,393.8 L271.9,392.1 L268.1,390.3 L264.4,388.5 L260.8,386.7 L257.2,384.8 L253.8,383.0 L250.4,381.1 L247.0,379.1Z" fill="none" stroke="#5F7A2C" stroke-width="1.5" stroke-linejoin="round"/>
<path d="M461.1,283.3 L191.3,257.7 L192.5,255.4 L193.9,253.0 L195.3,250.7 L196.8,248.4 L198.4,246.1 L200.0,243.8 L201.8,241.5 L203.6,239.3 L205.5,237.0 L207.5,234.8 L209.5,232.6 L211.7,230.4 L213.9,228.3 L216.2,226.2 L218.5,224.1 L220.9,222.0 L223.4,219.9 L226.0,217.9 L228.6,215.8Z" fill="none" stroke="#9A5516" stroke-width="1.5" stroke-linejoin="round"/>
<path d="M461.1,283.3 L247.0,379.1 L243.8,377.2 L240.7,375.2 L237.6,373.2 L234.6,371.2 L231.7,369.1 L228.9,367.0 L226.1,365.0 L223.5,362.8 L220.9,360.7 L218.4,358.5 L216.0,356.3 L213.6,354.1 L211.3,351.9 L209.2,349.7 L207.1,347.4 L205.1,345.2 L203.1,342.9 L201.3,340.6 L199.6,338.3 L197.9,335.9 L196.3,333.6 L194.8,331.3 L193.4,328.9 L192.1,326.5 L190.9,324.1 L189.7,321.8 L188.7,319.4 L187.7,317.0 L186.8,314.6 L186.0,312.1 L185.3,309.7 L184.7,307.3Z" fill="none" stroke="#43325C" stroke-width="1.5" stroke-linejoin="round"/>
<rect x="662.5" y="144.0" width="157.2" height="63.3" rx="10.6" fill="#fff" stroke="#34537F" stroke-width="1.9" style="filter:drop-shadow(2.2px 2.4px 1.8px rgba(39,62,95,0.62))"/>
<text font-family="'Liberation Sans','Noto Sans CJK SC',sans-serif" font-size="21.7" font-weight="500" stroke="#5586C2" stroke-width="0.35" fill="#5586C2" text-anchor="middle" transform="scale(1.07,1)" x="636.54 658.97 681.40 703.83 726.26 748.69" y="169.0">智能网联汽车</text>
<text font-family="'Noto Sans Mono CJK SC','Liberation Mono','Liberation Sans','Noto Sans CJK SC',monospace" font-size="22.3" stroke="#5586C2" stroke-width="0.65" fill="#5586C2" text-anchor="middle" x="711.1 723.1 732.6 747.1 759.1 771.1" y="197.7">26.05%</text>
<rect x="627.1" y="462.7" width="162.9" height="63.7" rx="10.7" fill="#fff" stroke="#BC5654" stroke-width="1.9" style="filter:drop-shadow(2.2px 2.4px 1.8px rgba(141,64,63,0.62))"/>
<text font-family="'Liberation Sans','Noto Sans CJK SC',sans-serif" font-size="21.7" font-weight="500" stroke="#B85351" stroke-width="0.35" fill="#B85351" text-anchor="middle" transform="scale(1.07,1)" x="617.34 639.77 662.20 684.63 707.06" y="488.0">新能源汽车</text>
<text font-family="'Noto Sans Mono CJK SC','Liberation Mono','Liberation Sans','Noto Sans CJK SC',monospace" font-size="22.3" stroke="#B85351" stroke-width="0.65" fill="#B85351" text-anchor="middle" x="678.5 690.5 700.0 714.5 726.5 738.5" y="516.7">25.60%</text>
<rect x="210.0" y="467.5" width="160.0" height="63.0" rx="10.6" fill="#fff" stroke="#9DBB61" stroke-width="1.9" style="filter:drop-shadow(2.2px 2.4px 1.8px rgba(117,140,72,0.62))"/>
<text font-family="'Liberation Sans','Noto Sans CJK SC',sans-serif" font-size="21.7" font-weight="500" stroke="#9ABA5C" stroke-width="0.35" fill="#9ABA5C" text-anchor="middle" transform="scale(1.07,1)" x="237.38 259.81 282.24 304.67" y="492.5">电子电器</text>
<text font-family="'Noto Sans Mono CJK SC','Liberation Mono','Liberation Sans','Noto Sans CJK SC',monospace" font-size="22.3" stroke="#9ABA5C" stroke-width="0.65" fill="#9ABA5C" text-anchor="middle" x="260.0 272.0 281.5 296.0 308.0 320.0" y="521.1">11.62%</text>
<rect x="20.2" y="346.2" width="192.1" height="64.0" rx="10.7" fill="#fff" stroke="#7F63A1" stroke-width="1.9" style="filter:drop-shadow(2.2px 2.4px 1.8px rgba(95,74,120,0.62))"/>
<text font-family="'Liberation Sans','Noto Sans CJK SC',sans-serif" font-size="21.7" font-weight="500" stroke="#7F65A3" stroke-width="0.35" fill="#7F65A3" text-anchor="middle" transform="scale(1.07,1)" x="41.36 63.79 86.21 108.64 131.07 153.50 175.93" y="371.7">车身及车身附件</text>
<text font-family="'Noto Sans Mono CJK SC','Liberation Mono','Liberation Sans','Noto Sans CJK SC',monospace" font-size="22.3" stroke="#7F65A3" stroke-width="0.65" fill="#7F65A3" text-anchor="middle" x="92.2 101.8 116.2 128.2 140.2" y="400.4">8.96%</text>
<rect x="17.1" y="258.0" width="167.9" height="64.1" rx="10.8" fill="#fff" stroke="#48A0BA" stroke-width="1.9" style="filter:drop-shadow(2.2px 2.4px 1.8px rgba(54,120,139,0.62))"/>
<text font-family="'Liberation Sans','Noto Sans CJK SC',sans-serif" font-size="21.7" font-weight="500" stroke="#4BA9C3" stroke-width="0.35" fill="#4BA9C3" text-anchor="middle" transform="scale(1.07,1)" x="60.79 83.22 105.65 128.08" y="283.5">整车制造</text>
<text font-family="'Noto Sans Mono CJK SC','Liberation Mono','Liberation Sans','Noto Sans CJK SC',monospace" font-size="22.3" stroke="#4BA9C3" stroke-width="0.65" fill="#4BA9C3" text-anchor="middle" x="77.0 86.5 101.0 113.0 125.0" y="312.2">5.80%</text>
<rect x="38.9" y="205.3" width="156.9" height="34.2" rx="5.8" fill="#fff" stroke="#F39545" stroke-width="1.9" style="filter:drop-shadow(2.2px 2.4px 1.8px rgba(182,111,51,0.62))"/>
<text font-family="'Liberation Sans','Noto Sans CJK SC',sans-serif" font-size="21.7" font-weight="500" stroke="#F59747" stroke-width="0.35" fill="#F59747" text-anchor="middle" transform="scale(1.07,1)" x="53.60 76.03 98.46" y="230.4">发动机</text>
<text font-family="'Noto Sans Mono CJK SC','Liberation Mono','Liberation Sans','Noto Sans CJK SC',monospace" font-size="22.3" stroke="#F59747" stroke-width="0.65" fill="#F59747" text-anchor="middle" x="135.3 144.8 159.3 171.3 183.3" y="230.4">5.45%</text>
<rect x="89.7" y="134.0" width="172.9" height="62.9" rx="10.5" fill="#fff" stroke="#4A74AD" stroke-width="1.9" style="filter:drop-shadow(2.2px 2.4px 1.8px rgba(55,87,129,0.62))"/>
<text font-family="'Liberation Sans','Noto Sans CJK SC',sans-serif" font-size="21.7" font-weight="500" stroke="#4C7BB6" stroke-width="0.35" fill="#4C7BB6" text-anchor="middle" transform="scale(1.07,1)" x="130.98 153.41 175.84 198.27" y="159.8">整车系统</text>
<text font-family="'Noto Sans Mono CJK SC','Liberation Mono','Liberation Sans','Noto Sans CJK SC',monospace" font-size="22.3" stroke="#4C7BB6" stroke-width="0.65" fill="#4C7BB6" text-anchor="middle" x="152.2 161.7 176.2 188.2 200.2" y="188.5">4.20%</text>
<rect x="287.2" y="105.9" width="146.1" height="70.8" rx="11.9" fill="#fff" stroke="#4A74AD" stroke-width="1.9" style="filter:drop-shadow(2.2px 2.4px 1.8px rgba(55,87,129,0.62))"/>
<text font-family="'Liberation Sans','Noto Sans CJK SC',sans-serif" font-size="21.7" font-weight="500" stroke="#4C7BB6" stroke-width="0.35" fill="#4C7BB6" text-anchor="middle" transform="scale(1.07,1)" x="325.47 347.90" y="135.2">其它</text>
<text font-family="'Noto Sans Mono CJK SC','Liberation Mono','Liberation Sans','Noto Sans CJK SC',monospace" font-size="22.3" stroke="#4C7BB6" stroke-width="0.65" fill="#4C7BB6" text-anchor="middle" x="330.2 342.2 351.8 366.2 378.2 390.2" y="163.9">12.33%</text>
<text font-family="'Liberation Sans','Noto Sans CJK SC',sans-serif" font-size="29" fill="#0a0a0a" text-anchor="middle" y="41.8"><tspan font-family="'Noto Sans Mono CJK SC','Liberation Mono','Liberation Sans','Noto Sans CJK SC',monospace" font-size="27" x="236.1 250.4 264.8 279.1" y="40.3">2023</tspan><tspan x="300.7 329.5 358.3 387.1 415.9 444.7 473.5 502.3 531.1 559.9 588.7" y="41.8">年中国汽车专利技术构成</tspan></text>
</svg>
</body></html>
